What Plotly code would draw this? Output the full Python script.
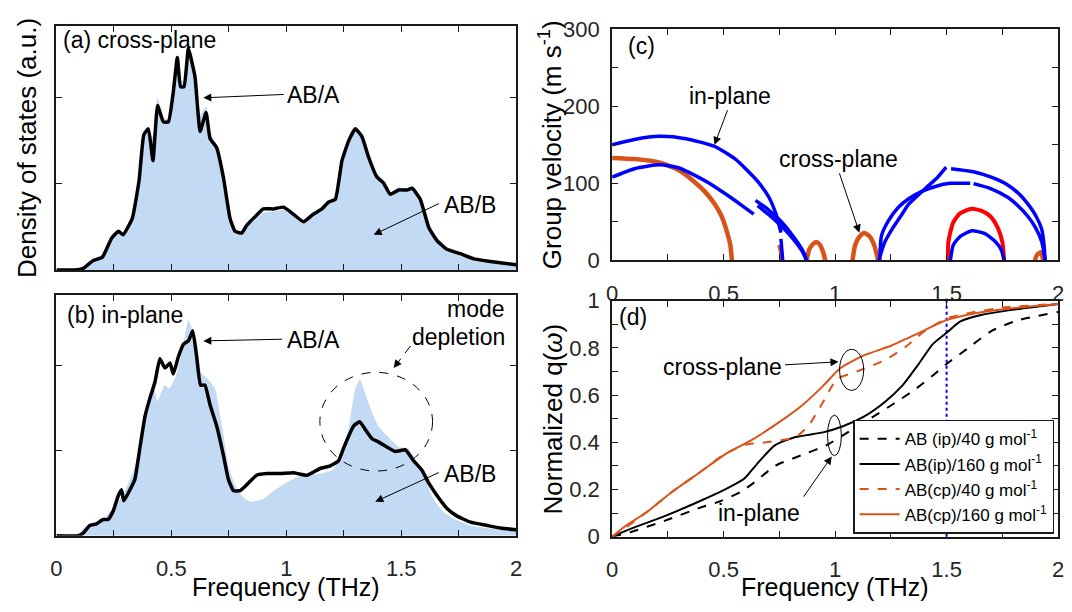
import plotly.graph_objects as go

# ---------------- data ----------------
# (a) cross-plane DOS
freq_a = [0, 0.08, 0.116, 0.16, 0.2, 0.24, 0.27, 0.29, 0.33, 0.36, 0.38, 0.40, 0.42, 0.44, 0.465, 0.487,
          0.508, 0.526, 0.54, 0.555, 0.574, 0.588, 0.603, 0.625, 0.651, 0.668, 0.697, 0.726, 0.755, 0.777,
          0.806, 0.828, 0.872, 0.9, 0.944, 0.988, 1.03, 1.075, 1.118, 1.155, 1.184, 1.213, 1.242, 1.271,
          1.3, 1.329, 1.358, 1.394, 1.423, 1.452, 1.489, 1.525, 1.547, 1.583, 1.62, 1.656, 1.699, 1.757,
          1.816, 1.888, 2.0]
dos_a_line = [0, 0, 0.02, 0.11, 0.15, 0.37, 0.45, 0.41, 0.6, 1.05, 1.57, 1.64, 1.27, 1.91, 1.72, 1.72,
              2.06, 2.47, 2.13, 2.13, 2.58, 2.43, 2.24, 1.61, 1.83, 1.53, 1.42, 1.08, 0.6, 0.45,
              0.43, 0.52, 0.64, 0.71, 0.71, 0.73, 0.65, 0.56, 0.65, 0.71, 0.79, 0.82, 1.27, 1.5,
              1.64, 1.55, 1.31, 1.08, 1.01, 0.88, 0.93, 0.93, 0.95, 0.82, 0.49, 0.34, 0.24, 0.19,
              0.13, 0.10, 0.06]
dos_a_fill = [0, 0, 0.03, 0.1, 0.16, 0.37, 0.46, 0.44, 0.62, 1.1, 1.6, 1.58, 1.55, 2.0, 1.78, 1.75,
              2.1, 2.45, 2.2, 2.2, 2.62, 2.45, 2.3, 1.8, 1.9, 1.6, 1.45, 1.1, 0.62, 0.47,
              0.44, 0.5, 0.6, 0.67, 0.68, 0.7, 0.63, 0.56, 0.63, 0.7, 0.78, 0.82, 1.3, 1.52,
              1.65, 1.57, 1.35, 1.12, 1.05, 0.9, 0.96, 0.94, 0.95, 0.8, 0.47, 0.33, 0.24, 0.19,
              0.13, 0.1, 0.06]

# (b) in-plane DOS
freq_b_line = [0, 0.094, 0.116, 0.145, 0.174, 0.203, 0.225, 0.247, 0.269, 0.283, 0.293, 0.32, 0.341,
               0.363, 0.385, 0.407, 0.428, 0.45, 0.472, 0.494, 0.508, 0.53, 0.552, 0.574, 0.593, 0.61,
               0.627, 0.646, 0.668, 0.697, 0.726, 0.748, 0.77, 0.799, 0.828, 0.871, 0.915, 0.973,
               1.031, 1.089, 1.147, 1.191, 1.227, 1.249, 1.271, 1.293, 1.319, 1.343, 1.373, 1.402,
               1.438, 1.474, 1.518, 1.554, 1.59, 1.619, 1.656, 1.699, 1.743, 1.801, 1.874, 1.932, 2.0]
dos_b_line = [0, 0, 0.03, 0.12, 0.14, 0.19, 0.19, 0.29, 0.47, 0.54, 0.41, 0.54, 0.66,
              1.03, 1.4, 1.62, 1.8, 2.08, 1.97, 2.03, 1.9, 2.1, 2.25, 2.29, 2.41, 2.1,
              1.77, 1.77, 1.54, 1.29, 0.95, 0.66, 0.53, 0.53, 0.6, 0.71, 0.73, 0.73,
              0.74, 0.71, 0.79, 0.82, 0.88, 1.03, 1.17, 1.29, 1.34, 1.25, 1.14, 1.1,
              1.04, 0.99, 1.01, 0.88, 0.77, 0.62, 0.47, 0.32, 0.23, 0.16, 0.12, 0.09, 0.07]
freq_b_fill = [0, 0.094, 0.116, 0.2, 0.26, 0.3, 0.34, 0.38, 0.42, 0.44, 0.47, 0.49, 0.52, 0.55, 0.574,
               0.59, 0.61, 0.63, 0.66, 0.69, 0.72, 0.75, 0.78, 0.82, 0.85, 0.9, 0.95, 1.0, 1.05, 1.1,
               1.15, 1.2, 1.24, 1.27, 1.3, 1.32, 1.345, 1.37, 1.4, 1.44, 1.49, 1.53, 1.57, 1.6, 1.64,
               1.68, 1.72, 1.8, 1.9, 2.0]
dos_b_fill = [0, 0, 0.08, 0.19, 0.36, 0.54, 0.8, 1.32, 1.77, 1.58, 1.77, 1.73, 1.88, 2.21, 2.54,
              2.43, 2.29, 1.91, 1.84, 1.73, 1.29, 0.8, 0.58, 0.43, 0.4, 0.43, 0.54, 0.62, 0.69, 0.71,
              0.73, 0.77, 0.95, 1.25, 1.73, 1.84, 1.66, 1.47, 1.29, 1.17, 1.04, 1.03, 0.84, 0.69, 0.43,
              0.29, 0.21, 0.12, 0.08, 0.06]

# (c) group velocity branches (frequency THz, velocity m/s)
ip_upper_f = [0, 0.1, 0.214, 0.33, 0.459, 0.55, 0.612, 0.66, 0.703, 0.735, 0.757]
ip_upper_v = [150, 157, 161, 158, 148, 132, 115, 100, 82, 60, 36]
ip_upper_end_f = [0.757, 0.761, 0.765]
ip_upper_end_v = [28, 14, 0]
ip_lower_f = [0, 0.1, 0.214, 0.3, 0.367, 0.43, 0.489, 0.54, 0.581, 0.635]
ip_lower_v = [108, 119, 124, 120, 111, 101, 90, 80, 71.5, 60]
ip_mid1_f = [0.643, 0.7, 0.76, 0.82, 0.86, 0.872]
ip_mid1_v = [78, 66, 50, 28, 10, 0]
ip_mid2_f = [0.652, 0.7, 0.75, 0.8, 0.85, 0.872]
ip_mid2_v = [71, 60, 47, 32, 13, 0]
ip_r1_f = [1.196, 1.22, 1.254, 1.3, 1.33, 1.407, 1.46, 1.498]
ip_r1_v = [0, 22, 40, 60, 73, 94, 108, 121]
ip_r2_f = [1.52, 1.62, 1.7, 1.774, 1.83, 1.865, 1.9, 1.927, 1.937, 1.942]
ip_r2_v = [119, 115, 108, 98, 85, 73, 58, 40, 20, 0]
ip_r3_f = [1.2, 1.208, 1.24, 1.284, 1.33, 1.391, 1.45, 1.514, 1.606]
ip_r3_v = [0, 32, 52, 69, 80, 90, 96, 100, 100]
ip_r4_f = [1.621, 1.7, 1.774, 1.82, 1.865, 1.9, 1.927, 1.942]
ip_r4_v = [99.6, 93, 82, 71, 57, 42, 24, 0]
ip_small_f = [1.517, 1.53, 1.56, 1.613, 1.67, 1.72, 1.745, 1.758]
ip_small_v = [0, 20, 31, 38.4, 35, 24, 14, 0]
red_f = [1.506, 1.508, 1.529, 1.56, 1.613, 1.66, 1.697, 1.73, 1.75, 1.758]
red_v = [0, 24, 48.8, 61, 67, 64, 57, 42, 24, 0]
cp_big_f = [0, 0.1, 0.214, 0.3, 0.367, 0.42, 0.459, 0.49, 0.512, 0.53, 0.537]
cp_big_v = [133, 131.5, 127, 117, 102.5, 88, 73.5, 58, 40, 20, 0]
cp_t1_f = [0.75, 0.757, 0.761]
cp_t1_v = [20, 12, 0]
cp_s1_f = [0.872, 0.885, 0.9, 0.914, 0.93, 0.945, 0.956]
cp_s1_v = [0, 15, 21, 24, 21, 12, 0]
cp_s2_f = [1.078, 1.09, 1.11, 1.131, 1.155, 1.175, 1.193]
cp_s2_v = [0, 20, 31, 35.5, 31, 20, 0]
cp_t2_f = [1.896, 1.905, 1.922, 1.934]
cp_t2_v = [0, 7, 10.7, 0]

# (d) normalized cumulative q(w)
ip40_f = [0, 0.085, 0.238, 0.392, 0.485, 0.577, 0.638, 0.731, 0.854, 0.962, 1.069, 1.162, 1.254, 1.362,
          1.469, 1.5, 1.592, 1.7, 1.823, 2.0]
ip40_q = [0, 0.02, 0.068, 0.122, 0.15, 0.19, 0.23, 0.3, 0.347, 0.388, 0.449, 0.503, 0.558, 0.626,
          0.707, 0.732, 0.796, 0.871, 0.918, 0.952]
ip160_f = [0, 0.085, 0.238, 0.392, 0.5, 0.592, 0.654, 0.731, 0.823, 0.946, 1.038, 1.131, 1.223, 1.3,
           1.377, 1.438, 1.5, 1.562, 1.654, 1.777, 2.0]
ip160_q = [0, 0.034, 0.088, 0.15, 0.197, 0.245, 0.313, 0.388, 0.422, 0.442, 0.469, 0.51, 0.571, 0.639,
           0.735, 0.816, 0.864, 0.912, 0.939, 0.959, 0.986]
cp40_f = [0, 0.054, 0.162, 0.269, 0.392, 0.5, 0.592, 0.7, 0.823, 0.885, 0.946, 1.008, 1.1, 1.223,
          1.315, 1.392, 1.5, 1.623, 1.777, 2.0]
cp40_q = [0, 0.034, 0.109, 0.19, 0.272, 0.347, 0.388, 0.401, 0.422, 0.476, 0.571, 0.667, 0.701, 0.748,
          0.803, 0.864, 0.925, 0.952, 0.973, 0.986]
cp160_f = [0, 0.054, 0.162, 0.269, 0.392, 0.515, 0.623, 0.746, 0.854, 0.946, 1.023, 1.131, 1.254,
           1.377, 1.5, 1.623, 1.777, 2.0]
cp160_q = [0, 0.041, 0.109, 0.19, 0.272, 0.354, 0.408, 0.483, 0.558, 0.639, 0.714, 0.769, 0.81,
           0.864, 0.918, 0.946, 0.966, 0.986]
legend_names = ["AB (ip)/40 g mol<sup>-1</sup>", "AB(ip)/160 g mol<sup>-1</sup>",
                "AB(cp)/40 g mol<sup>-1</sup>", "AB(cp)/160 g mol<sup>-1</sup>"]

freq_range = [0, 2]
dos_range = [0, 2.83]
vg_range = [0, 300]
q_range = [0, 1]
freq_ticks = [0, 0.25, 0.5, 0.75, 1, 1.25, 1.5, 1.75, 2]
freq_ticktext = ["0", "", "0.5", "", "1", "", "1.5", "", "2"]
vg_ticks = [0, 50, 100, 150, 200, 250, 300]
vg_ticktext = ["0", "", "100", "", "200", "", "300"]
q_ticks = [0, 0.1, 0.2, 0.3, 0.4, 0.5, 0.6, 0.7, 0.8, 0.9, 1.0]
q_ticktext = ["0", "", "0.2", "", "0.4", "", "0.6", "", "0.8", "", "1"]

# ---------------- figure ----------------
W, H = 1072, 612
FONT = "Liberation Sans, Arial, Helvetica, sans-serif"
TXT = "#262626"
FRAME = "#1a1a1a"
FILL = "rgb(194,218,244)"
ORANGE = "#D95319"
BLUE = "#0000FF"


def fx(p):
    return p / W


def fy(p):
    return 1 - p / H


fig = go.Figure()


def line(x, y, xa, ya, color, width, dash=None, name=None, legend=False, smooth=0.6):
    fig.add_trace(go.Scatter(x=x, y=y, mode="lines", xaxis=xa, yaxis=ya, name=name,
                             showlegend=legend, hoverinfo="skip",
                             line=dict(color=color, width=width, dash=dash,
                                       shape="spline", smoothing=smooth)))


# (a)
fig.add_trace(go.Scatter(x=freq_a, y=dos_a_fill, mode="lines", fill="tozeroy", fillcolor=FILL,
                         line=dict(width=0, color=FILL, shape="spline", smoothing=0.4),
                         xaxis="x", yaxis="y", showlegend=False, hoverinfo="skip"))
line(freq_a, dos_a_line, "x", "y", "black", 3.5, smooth=0.4)
# (b)
fig.add_trace(go.Scatter(x=freq_b_fill, y=dos_b_fill, mode="lines", fill="tozeroy", fillcolor=FILL,
                         line=dict(width=0, color=FILL, shape="spline", smoothing=0.4),
                         xaxis="x2", yaxis="y2", showlegend=False, hoverinfo="skip"))
line(freq_b_line, dos_b_line, "x2", "y2", "black", 3.5, smooth=0.4)

# (c)
for f, v in [(cp_big_f, cp_big_v), (cp_t1_f, cp_t1_v), (cp_s1_f, cp_s1_v),
             (cp_s2_f, cp_s2_v), (cp_t2_f, cp_t2_v)]:
    line(f, v, "x3", "y3", ORANGE, 4.5)
line(red_f, red_v, "x3", "y3", "#FF0000", 4)
for f, v in [(ip_upper_f, ip_upper_v), (ip_upper_end_f, ip_upper_end_v), (ip_lower_f, ip_lower_v),
             (ip_mid1_f, ip_mid1_v), (ip_mid2_f, ip_mid2_v), (ip_r1_f, ip_r1_v),
             (ip_r2_f, ip_r2_v), (ip_r3_f, ip_r3_v), (ip_r4_f, ip_r4_v), (ip_small_f, ip_small_v)]:
    line(f, v, "x3", "y3", BLUE, 3.5)

# (d)
fig.add_trace(go.Scatter(x=[1.5, 1.5], y=q_range, mode="lines", xaxis="x4", yaxis="y4",
                         line=dict(color=BLUE, width=2, dash="dot"), showlegend=False,
                         hoverinfo="skip"))
line(ip40_f, ip40_q, "x4", "y4", "black", 2, dash="dash", name=legend_names[0], legend=True)
line(ip160_f, ip160_q, "x4", "y4", "black", 2, name=legend_names[1], legend=True)
line(cp40_f, cp40_q, "x4", "y4", ORANGE, 2, dash="dash", name=legend_names[2], legend=True)
line(cp160_f, cp160_q, "x4", "y4", ORANGE, 2, name=legend_names[3], legend=True)


def xax(domain, labels, anchor):
    return dict(domain=domain, range=freq_range, anchor=anchor, tickvals=freq_ticks,
                ticktext=freq_ticktext, showticklabels=labels, ticks="inside", ticklen=6,
                tickcolor=FRAME, tickwidth=1, showline=True, linecolor=FRAME, linewidth=2,
                mirror="ticks", showgrid=False, zeroline=False, ticklabelstandoff=12,
                tickfont=dict(size=22, color=TXT, family=FONT))


def yax(domain, rng, vals, text, labels, anchor):
    return dict(domain=domain, range=rng, anchor=anchor, tickvals=vals, ticktext=text,
                showticklabels=labels, ticks="inside", ticklen=6, tickcolor=FRAME, tickwidth=1,
                showline=True, linecolor=FRAME, linewidth=2, mirror="ticks", showgrid=False,
                zeroline=False, ticklabelstandoff=6,
                tickfont=dict(size=22, color=TXT, family=FONT))


xl = [fx(51), fx(516)]
xr = [fx(613), fx(1064)]
fig.update_layout(
    xaxis=xax(xl, False, "y"),
    yaxis=yax([fy(269), fy(15)], dos_range, [0, 1, 2], ["", "", ""], False, "x"),
    xaxis2=xax(xl, True, "y2"),
    yaxis2=yax([fy(546), fy(295)], dos_range, [0, 1, 2], ["", "", ""], False, "x2"),
    xaxis3=xax(xr, True, "y3"),
    yaxis3=yax([fy(259), fy(18)], vg_range, vg_ticks, vg_ticktext, True, "x3"),
    xaxis4=xax(xr, True, "y4"),
    yaxis4=yax([fy(547), fy(301)], q_range, q_ticks, q_ticktext, True, "x4"),
)

ann = []


def text(x, y, s, xref, yref, size=23, xanchor="center", yanchor="middle", angle=0):
    ann.append(dict(x=x, y=y, text=s, xref=xref, yref=yref, showarrow=False, xanchor=xanchor,
                    yanchor=yanchor, textangle=angle, font=dict(size=size, color="black", family=FONT)))


def arrow(x, y, ax, ay, xref, yref):
    ann.append(dict(x=x, y=y, ax=ax, ay=ay, xref=xref, yref=yref, axref=xref, ayref=yref, text="",
                    showarrow=True, arrowhead=2, arrowsize=1.6, arrowwidth=1, arrowcolor="black"))


# axis titles
text(fx(21), fy(142), "Density of states (a.u.)", "paper", "paper", size=26, angle=-90)
text(fx(283.5), fy(600), "Frequency (THz)", "paper", "paper", size=25)
text(fx(838.5), fy(600), "Frequency (THz)", "paper", "paper", size=25)
text(fx(551), fy(138), "Group velocity (m s<sup>-1</sup>)", "paper", "paper", size=26, angle=-90)
text(fx(553), fy(424), "Normalized q(<i>ω</i>)", "paper", "paper", size=26, angle=-90)

# (a)
text(0.02, 2.67, "(a) cross-plane", "x", "y", xanchor="left")
text(1.118, 2.03, "AB/A", "x", "y")
arrow(0.639, 2.0, 0.995, 2.04, "x", "y")
text(1.801, 0.75, "AB/B", "x", "y")
arrow(1.38, 0.41, 1.67, 0.78, "x", "y")
# (b)
text(0.036, 2.6, "(b) in-plane", "x2", "y2", xanchor="left")
text(1.118, 2.3, "AB/A", "x2", "y2")
arrow(0.639, 2.29, 0.988, 2.31, "x2", "y2")
text(1.96, 2.66, "mode", "x2", "y2", xanchor="right")
text(1.96, 2.34, "depletion", "x2", "y2", xanchor="right")
arrow(1.467, 1.97, 1.503, 2.1, "x2", "y2")
text(1.801, 0.73, "AB/B", "x2", "y2")
arrow(1.387, 0.4, 1.67, 0.75, "x2", "y2")
# (c)
text(0.13, 278, "(c)", "x3", "y3")
text(0.528, 214, "in-plane", "x3", "y3")
arrow(0.459, 150, 0.52, 197, "x3", "y3")
text(1.017, 131, "cross-plane", "x3", "y3")
arrow(1.109, 36, 1.017, 115, "x3", "y3")
# (d)
text(0.095, 0.932, "(d)", "x4", "y4")
text(0.496, 0.721, "cross-plane", "x4", "y4")
arrow(1.015, 0.741, 0.769, 0.728, "x4", "y4")
text(0.66, 0.102, "in-plane", "x4", "y4")
arrow(0.985, 0.34, 0.854, 0.163, "x4", "y4")

shapes = [
    dict(type="line", xref="x2", yref="y2", x0=1.54, y0=2.23, x1=1.503, y1=2.1,
         line=dict(color="black", width=1, dash="dash")),
    dict(type="circle", xref="x2", yref="y2", x0=1.146, x1=1.636, y0=0.76, y1=1.92,
         line=dict(color="black", width=1, dash="dash")),
    dict(type="circle", xref="x4", yref="y4", x0=1.02, x1=1.128, y0=0.62, y1=0.794,
         line=dict(color="black", width=1)),
    dict(type="circle", xref="x4", yref="y4", x0=0.966, x1=1.028, y0=0.343, y1=0.515,
         line=dict(color="black", width=1)),
]

fig.update_layout(
    autosize=True, margin=dict(l=0, r=0, t=0, b=0, pad=0),
    paper_bgcolor="white", plot_bgcolor="white",
    font=dict(family=FONT, color=TXT),
    annotations=ann, shapes=shapes,
    legend=dict(x=fx(1060), y=fy(544), xanchor="right", yanchor="bottom",
                bgcolor="white", bordercolor=FRAME, borderwidth=1.5,
                font=dict(size=17, color="black", family=FONT),
                tracegroupgap=0, itemwidth=40),
)

fig.write_html(
    "out.html",
    config={"displayModeBar": False, "responsive": True},
    default_width="100vw", default_height="100vh",
    post_script=("document.documentElement.style.overflow='hidden';"
                 "document.body.style.margin='0px';document.body.style.overflow='hidden';"
                 "var d=document.getElementById('{plot_id}');"
                 "d.style.position='fixed';d.style.left='0px';d.style.top='0px';"),
)
